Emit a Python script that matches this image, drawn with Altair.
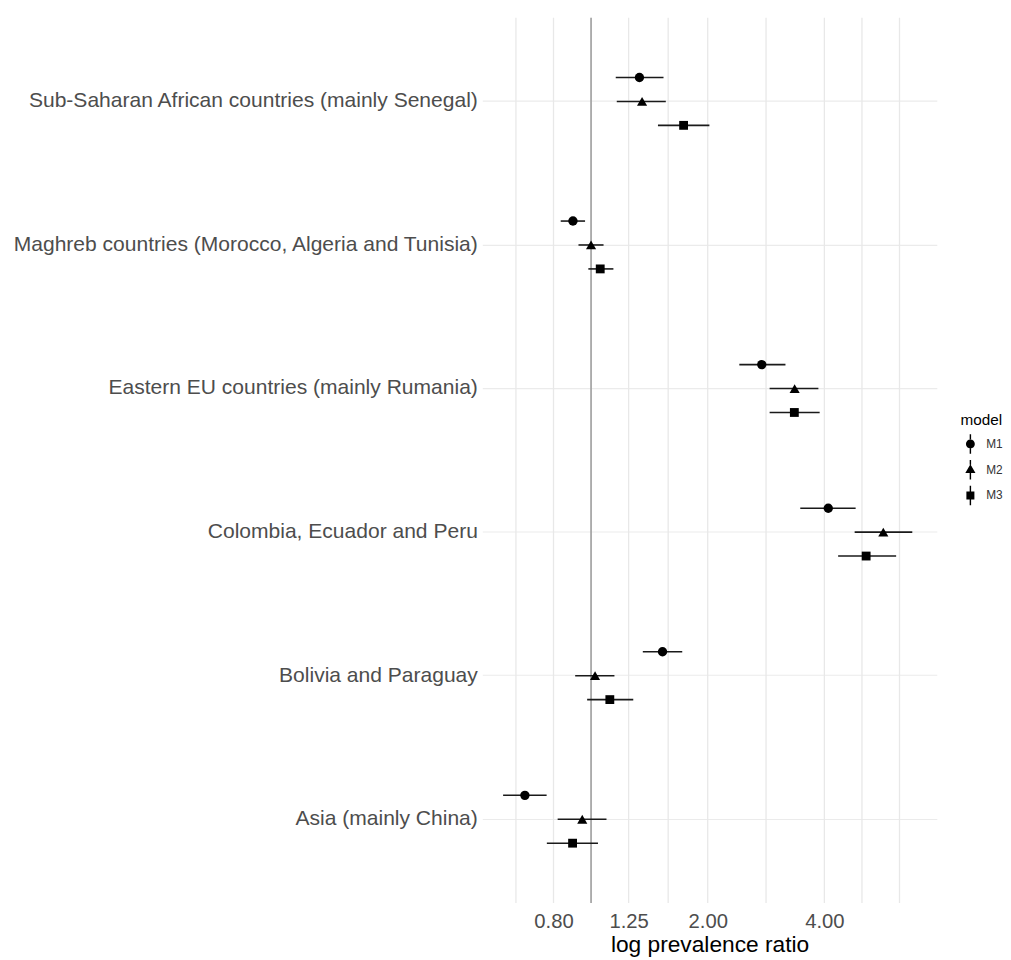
import altair as alt
import pandas as pd

countries = [
    "Sub-Saharan African countries (mainly Senegal)",
    "Maghreb countries (Morocco, Algeria and Tunisia)",
    "Eastern EU countries (mainly Rumania)",
    "Colombia, Ecuador and Peru",
    "Bolivia and Paraguay",
    "Asia (mainly China)",
]
models = ["M1", "M2", "M3"]
point_shapes = ["circle", "triangle-up", "square"]
point_sizes = [90, 105, 80]

m1_est = [1.333, 0.898, 2.757, 4.093, 1.529, 0.675]
m1_lo = [1.158, 0.835, 2.413, 3.466, 1.360, 0.593]
m1_hi = [1.538, 0.965, 3.174, 4.816, 1.719, 0.768]

m2_est = [1.354, 1.000, 3.352, 5.676, 1.024, 0.949]
m2_lo = [1.165, 0.928, 2.889, 4.788, 0.910, 0.820]
m2_hi = [1.559, 1.077, 3.860, 6.743, 1.149, 1.096]

m3_est = [1.733, 1.056, 3.346, 5.126, 1.118, 0.896]
m3_lo = [1.488, 0.984, 2.889, 4.340, 0.977, 0.769]
m3_hi = [2.020, 1.142, 3.889, 6.126, 1.285, 1.042]

x_tick_values = [0.8, 1.25, 2.0, 4.0]
x_grid_values = [0.64, 0.8, 1.0, 1.25, 1.581, 2.0, 2.828, 4.0, 5.0, 6.25]
ref_value = [1.0]

rows = []
for m, est, lo, hi in [("M1", m1_est, m1_lo, m1_hi),
                       ("M2", m2_est, m2_lo, m2_hi),
                       ("M3", m3_est, m3_lo, m3_hi)]:
    for c, e, l, h in zip(countries, est, lo, hi):
        rows.append({"country": c, "model": m, "est": e, "lo": l, "hi": h})
df = pd.DataFrame(rows)
grid_df = pd.DataFrame({"g": x_grid_values})
ref_df = pd.DataFrame({"r": ref_value})

xscale = alt.Scale(type="log", domain=[0.524, 7.8], nice=False, zero=False)
yscale = alt.Scale(domain=countries, paddingInner=1 / 3, paddingOuter=0.25)
yoff_scale = alt.Scale(type="point", domain=models, padding=1)

x_axis = alt.Axis(values=x_tick_values, format=".2f", grid=False, ticks=False,
                  domain=False, labelFontSize=20.5, labelColor="#4d4d4d",
                  labelPadding=9, title="log prevalence ratio", titleFontSize=23,
                  titleFontWeight="normal", titleColor="#000000", titlePadding=2,
                  labelFont="Liberation Sans", titleFont="Liberation Sans")
y_axis = alt.Axis(title=None, ticks=False, domain=False, grid=True, bandPosition=0.5,
                  gridColor="#ebebeb", gridWidth=1.2, labelFontSize=21.3,
                  labelColor="#4d4d4d", labelPadding=5, labelLimit=1000,
                  labelFont="Liberation Sans")

vgrid = alt.Chart(grid_df).mark_rule(color="#e8e8e8", strokeWidth=1.3).encode(
    x=alt.X("g:Q", scale=xscale, axis=x_axis)
)

ref = alt.Chart(ref_df).mark_rule(color="#9a9a9a", strokeWidth=1.5).encode(
    x=alt.X("r:Q", scale=xscale)
)

bars = alt.Chart(df).mark_rule(color="#1a1a1a", strokeWidth=1.6).encode(
    x=alt.X("lo:Q", scale=xscale),
    x2="hi:Q",
    y=alt.Y("country:N", scale=yscale, axis=y_axis, sort=countries),
    yOffset=alt.YOffset("model:N", scale=yoff_scale, sort=models),
)

pt_layers = []
for m, shp, sz in zip(models, point_shapes, point_sizes):
    pt_layers.append(
        alt.Chart(df).transform_filter(alt.datum.model == m).mark_point(
            filled=True, color="#000000", opacity=1, shape=shp, size=sz
        ).encode(
            x=alt.X("est:Q", scale=xscale),
            y=alt.Y("country:N", scale=yscale, sort=countries),
            yOffset=alt.YOffset("model:N", scale=yoff_scale, sort=models),
        )
    )

# legend glyphs: point with a thin vertical bar (pointrange key)
legend_paths = [
    "M-0.5,0A0.5,0.5 0 1,0 0.5,0A0.5,0.5 0 1,0 -0.5,0Z "
    "M-0.08,-1.1L0.08,-1.1L0.08,-0.49L-0.08,-0.49Z "
    "M-0.08,0.49L0.08,0.49L0.08,1.1L-0.08,1.1Z",
    "M0,-0.62L0.57,0.38L-0.57,0.38Z "
    "M-0.08,-1.1L0.08,-1.1L0.08,-0.55L-0.08,-0.55Z "
    "M-0.08,0.38L0.08,0.38L0.08,1.1L-0.08,1.1Z",
    "M-0.45,-0.45L0.45,-0.45L0.45,0.45L-0.45,0.45Z "
    "M-0.08,-1.1L0.08,-1.1L0.08,-0.45L-0.08,-0.45Z "
    "M-0.08,0.45L0.08,0.45L0.08,1.1L-0.08,1.1Z",
]

leg = alt.Chart(df).transform_filter("false").mark_point(
    filled=True, color="#000000", opacity=1
).encode(
    shape=alt.Shape("model:N", scale=alt.Scale(domain=models, range=legend_paths),
                    legend=alt.Legend(title="model", orient="none", legendX=484,
                                      legendY=400, titleFontSize=15.5,
                                      titleFontWeight="normal", titleColor="#000000",
                                      labelFontSize=12, labelColor="#333333",
                                      symbolSize=324, rowPadding=0, titlePadding=6,
                                      labelOffset=6, symbolFillColor="#000000",
                                      titleFont="Liberation Sans",
                                      labelFont="Liberation Sans")),
)

chart = alt.layer(vgrid, ref, bars, *pt_layers, leg).properties(
    width=460, height=896,
    padding={"left": 3, "top": 3, "right": 0, "bottom": 5},
    background="white",
).configure_view(stroke=None)

chart.save("out.html", embed_options={"renderer": "svg", "actions": False})
